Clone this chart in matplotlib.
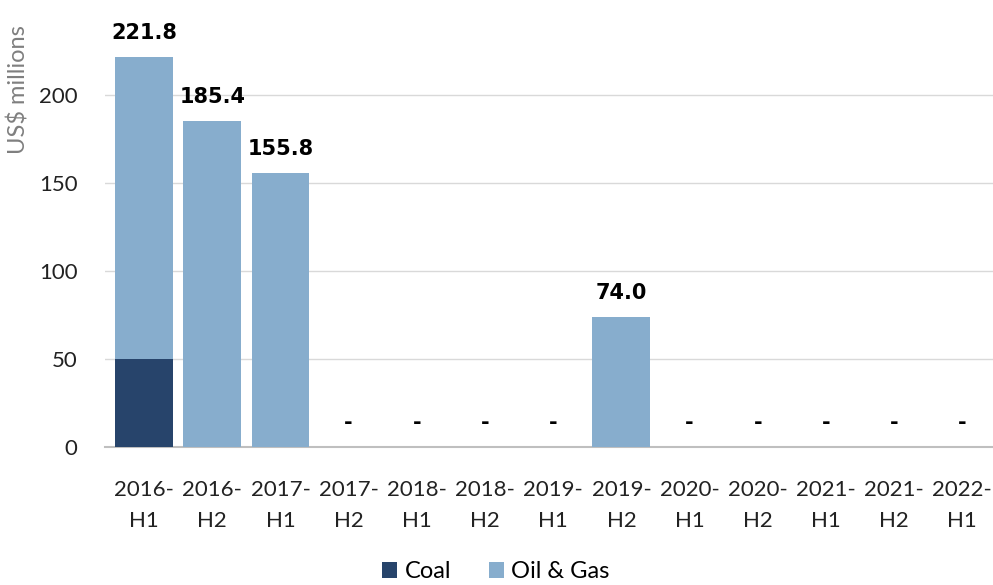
import matplotlib.pyplot as plt
import numpy as np

# 데이터
periods = ["2016-\nH1", "2016-\nH2", "2017-\nH1", "2017-\nH2", "2018-\nH1", "2018-\nH2",
           "2019-\nH1", "2019-\nH2", "2020-\nH1", "2020-\nH2", "2021-\nH1", "2021-\nH2", "2022-\nH1"]
coal    = [50.0, 0, 0, 0, 0, 0, 0, 0, 0, 0, 0, 0, 0]
oil_gas = [171.8, 185.4, 155.8, 0, 0, 0, 0, 74.0, 0, 0, 0, 0, 0]

plt.rcParams['font.family'] = ['Lato', 'DejaVu Sans']

fig = plt.figure(figsize=(9.93, 5.85), dpi=100)
ax = fig.add_axes([0.106, 0.236, 0.894, 0.737])

x = np.arange(len(periods))
ax.bar(x, coal, width=0.85, color="#27446b", label="Coal", zorder=3)
ax.bar(x, oil_gas, width=0.85, bottom=coal, color="#87adcd", label="Oil & Gas", zorder=3)

# 합계 라벨
totals = np.array(coal) + np.array(oil_gas)
for xi, t in zip(x, totals):
    txt = f"{t:.1f}" if t > 0 else "-"
    ax.annotate(txt, (xi, t), xytext=(0, 10), textcoords="offset points",
                ha="center", va="bottom", fontsize=15, fontweight="bold",
                family="DejaVu Sans", color="black")

ax.set_xlim(-0.57, 12.45)
ax.set_ylim(0, 245)
ax.set_yticks([0, 50, 100, 150, 200])
ax.set_xticks(x)
ax.set_xticklabels(periods, fontsize=16, color="#222222", linespacing=1.65)
ax.tick_params(axis="y", labelsize=16, labelcolor="#222222", length=0, pad=20)
ax.tick_params(axis="x", length=0, pad=24)

ax.set_ylabel("US$ millions", fontsize=17, color="#7f7f7f")
ax.yaxis.set_label_coords(-0.085, 0.83)

ax.grid(axis="y", color="#d9d9d9", linewidth=1, zorder=0)
for s in ["top", "right", "left"]:
    ax.spines[s].set_visible(False)
ax.spines["bottom"].set_color("#bfbfbf")
ax.spines["bottom"].set_linewidth(1.5)

ax.legend(loc="center", bbox_to_anchor=(0.44, -0.29), ncol=2, frameon=False,
          fontsize=17, handlelength=0.65, handleheight=0.65, handletextpad=0.3, columnspacing=1.6)

fig.savefig("out.png", dpi=100)
